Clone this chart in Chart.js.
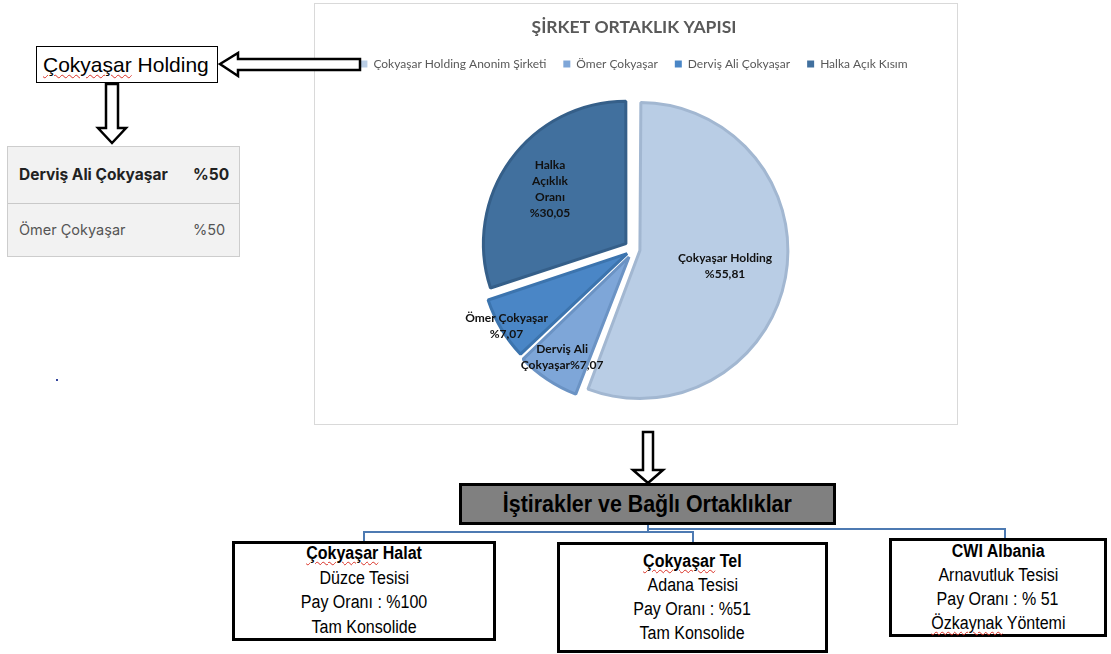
<!DOCTYPE html>
<html lang="tr">
<head>
<meta charset="UTF-8">
<title>Şirket Ortaklık Yapısı</title>
<script src="https://cdn.jsdelivr.net/npm/chart.js/dist/chart.umd.min.js"></script>
<style>
  html, body { margin: 0; padding: 0; background: #fff; }
  body { position: relative; width: 1111px; height: 654px; overflow: hidden;
         font-family: "Liberation Sans", Arial, sans-serif; color: #000; }
  .box { position: absolute; box-sizing: border-box; }
  .wavy { text-decoration: underline wavy #d93025; text-decoration-thickness: 1px; text-underline-offset: 2px; }
  .narrow { display: inline-block; transform: scaleX(0.89); white-space: nowrap; }

  #holding { left: 36px; top: 46px; width: 182px; height: 37px; border: 1px solid #000;
             font-size: 21px; line-height: 35px; padding-left: 6px; white-space: nowrap; }

  #owners { left: 7px; top: 146px; width: 233px; height: 111px; background: #f2f2f2;
            border: 1px solid #cdcdcd; font-family: Inter, "Open Sans", sans-serif; }
  #owners .row { position: absolute; left: 11px; right: 6px; height: 20px; line-height: 20px; white-space: nowrap; }
  #owners .row .v { position: absolute; left: 174px; }
  #owners .r1 { top: 18px; font-weight: 700; color: #222; font-size: 15.5px; }
  #owners .r2 { top: 73px; color: #555; font-size: 14.5px; }
  #owners .sep { position: absolute; left: 0; right: 0; top: 56px; border-top: 1px solid #c9c9c9; }

  #frame { left: 314px; top: 3px; width: 644px; height: 422px; border: 1px solid #d9d9d9; background: #fff; }
  #chartWrap { position: absolute; left: 314px; top: 3px; width: 643px; height: 421px; }

  #sub { left: 459px; top: 483px; width: 377px; height: 42px; background: #808080;
         border: 3px solid #000; text-align: center; font-weight: 700; font-size: 23px; line-height: 36px; }
  #sub .narrow { transform: scaleX(0.93); }

  .unit { border: 3px solid #000; text-align: center; font-size: 18px; background: #fff; }
  .unit .txt { position: absolute; left: 0; right: 0; }
  #u1 { left: 232px; top: 541px; width: 264px; height: 100px; }
  #u1 .txt { top: -3px; line-height: 24.5px; }
  #u2 { left: 557px; top: 542px; width: 271px; height: 111px; }
  #u2 .txt { top: 4px; line-height: 24px; }
  #u3 { left: 889px; top: 538px; width: 218px; height: 99px; }
  #u3 .txt { top: -2px; line-height: 24px; }

  #dot { left: 56px; top: 379px; width: 2px; height: 2px; background: #33449c; }
  #lines { position: absolute; left: 0; top: 0; z-index: 5; pointer-events: none; }
</style>
</head>
<body>

<div class="box" id="holding"><span class="wavy">Çokyaşar</span> Holding</div>

<div class="box" id="owners">
  <div class="row r1"><span>Derviş Ali Çokyaşar</span><span class="v">%50</span></div>
  <div class="sep"></div>
  <div class="row r2"><span>Ömer Çokyaşar</span><span class="v">%50</span></div>
</div>

<div class="box" id="dot"></div>

<div class="box" id="frame"></div>
<div id="chartWrap"><canvas id="pie"></canvas></div>

<div class="box" id="sub"><span class="narrow">İştirakler ve Bağlı Ortaklıklar</span></div>

<div class="box unit" id="u1"><div class="txt">
  <div><span class="narrow"><b><span class="wavy">Çokyaşar</span> Halat</b></span></div>
  <div><span class="narrow">Düzce Tesisi</span></div>
  <div><span class="narrow">Pay Oranı : %100</span></div>
  <div><span class="narrow">Tam Konsolide</span></div>
</div></div>

<div class="box unit" id="u2"><div class="txt">
  <div><span class="narrow"><b><span class="wavy">Çokyaşar</span> Tel</b></span></div>
  <div><span class="narrow">Adana Tesisi</span></div>
  <div><span class="narrow">Pay Oranı : %51</span></div>
  <div><span class="narrow">Tam Konsolide</span></div>
</div></div>

<div class="box unit" id="u3"><div class="txt">
  <div><span class="narrow"><b>CWI Albania</b></span></div>
  <div><span class="narrow">Arnavutluk Tesisi</span></div>
  <div><span class="narrow">Pay Oranı : % 51</span></div>
  <div><span class="narrow"><span class="wavy">Özkaynak</span> Yöntemi</span></div>
</div></div>

<svg id="lines" width="1111" height="654">
  <g fill="#fff" stroke="#000" stroke-width="2.5" stroke-linejoin="miter">
    <!-- chart -> holding -->
    <polygon points="220,64 238,53 238,59 360,59 360,70 238,70 238,76"/>
    <!-- holding -> owners -->
    <polygon points="106,84 118,84 118,128 126,128 112,143 98,128 106,128"/>
    <!-- chart -> subsidiaries -->
    <polygon points="643,432 653,432 653,470 663,470 648,483 633,470 643,470"/>
  </g>
  <g fill="none" stroke="#4d7ab2" stroke-width="2">
    <polyline points="648,525 648,532"/>
    <polyline points="648,529 1005,529 1005,538"/>
    <polyline points="364,541 364,532 693,532 693,542"/>
  </g>
</svg>

<script>
// legend / partner names
const partners = ['Çokyaşar Holding Anonim Şirketi', 'Ömer Çokyaşar', 'Derviş Ali Çokyaşar', 'Halka Açık Kısım'];
// share values (%)
const shares = [55.81, 7.07, 7.07, 30.05];
// text written on each slice, the share is added after it
const sliceText = [['Çokyaşar Holding'], ['Derviş Ali', 'Çokyaşar'], ['Ömer Çokyaşar'], ['Halka', 'Açıklık', 'Oranı']];
const shareOnSameLine = [false, true, false, false];

const sliceFill = ['#b9cde5', '#7ea6d8', '#4a86c6', '#41709e'];
const sliceEdge = ['#a2b7d1', '#6b93c4', '#3c74ae', '#355f89'];
const sliceOffset = [24, 36, 32, 40];
const labelRadius = [0.61, 0.85, 0.99, 0.66];

function pct(v) {
  return '%' + v.toFixed(2).replace('.', ',');
}

// slice texts, drawn where the slice sits
const sliceLabels = {
  id: 'sliceLabels',
  afterDatasetsDraw(chart) {
    const ctx = chart.ctx;
    const meta = chart.getDatasetMeta(0);
    ctx.save();
    ctx.font = 'bold 12px Lato';
    ctx.fillStyle = '#111';
    ctx.textAlign = 'center';
    ctx.textBaseline = 'middle';
    meta.data.forEach((arc, i) => {
      const mid = (arc.startAngle + arc.endAngle) / 2;
      const r = sliceOffset[i] / 4 + labelRadius[i] * arc.outerRadius;
      const cx = arc.x + Math.cos(mid) * r;
      const cy = arc.y + Math.sin(mid) * r;
      const lines = sliceText[i].slice();
      if (shareOnSameLine[i]) lines[lines.length - 1] += pct(shares[i]);
      else lines.push(pct(shares[i]));
      const lh = 16;
      const y0 = cy - (lines.length - 1) * lh / 2;
      lines.forEach((t, k) => ctx.fillText(t, cx, y0 + k * lh));
    });
    ctx.restore();
  }
};

new Chart(document.getElementById('pie'), {
  type: 'pie',
  data: {
    labels: partners,
    datasets: [{
      data: shares,
      backgroundColor: sliceFill,
      borderColor: sliceEdge,
      borderWidth: 3,
      offset: sliceOffset,
      hoverOffset: 0,
      radius: 142,
      clip: false
    }]
  },
  options: {
    responsive: true,
    maintainAspectRatio: false,
    animation: false,
    events: [],
    layout: { padding: { left: 0, right: 3, top: 0, bottom: 5 } },
    plugins: {
      title: {
        display: true,
        text: 'ŞİRKET ORTAKLIK YAPISI',
        color: '#595959',
        font: { family: 'Lato', size: 17.5, weight: 'bold' },
        padding: { top: 13.5, bottom: 3.5 }
      },
      legend: {
        position: 'top',
        labels: {
          boxWidth: 7,
          boxHeight: 7,
          padding: 17,
          color: '#595959',
          font: { family: 'Lato', size: 12 },
          generateLabels(chart) {
            const items = Chart.overrides.doughnut.plugins.legend.labels.generateLabels(chart);
            items.forEach(it => { it.lineWidth = 0; it.strokeStyle = it.fillStyle; });
            return items;
          }
        }
      },
      tooltip: { enabled: false }
    }
  },
  plugins: [sliceLabels]
});
</script>
</body>
</html>
